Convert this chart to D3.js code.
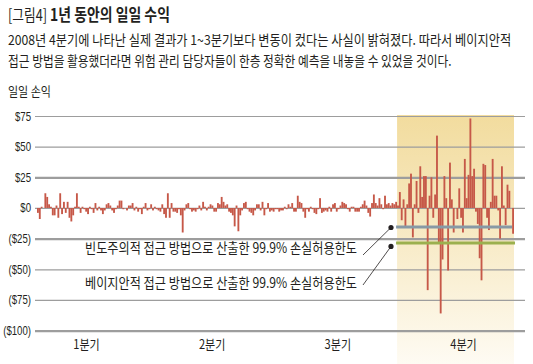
<!DOCTYPE html>
<html>
<head>
<meta charset="utf-8">
<script src="https://cdn.jsdelivr.net/npm/d3@7"></script>
<style>
  body { margin: 0; background: #fff; }
  svg { display: block; }
  text { font-family: "Noto Sans CJK KR", "Noto Sans", sans-serif; fill: #231f20; }
  .ylab .tick text { font-family: "Liberation Sans", Arial, sans-serif; }
</style>
</head>
<body>
<svg id="chart" width="533" height="364"></svg>
<script>
// daily P&L, one quarter per array
const q1 = [-4, -9, 1, 0, 12, 9, 3, 1, -6, -6, 2, -8, 12, -5, 5, -4, 5, -8, -11, -6, 1, 12, 1, -4, 1, -1,
  -3, -5, 1, -1, -4, 4, -2, 1, -2, -5, -2, 3, 4, 2, -2, -4, -1, 2, 6, 6, -1, 0, -2, 2, 2, 4, -2, 1, -3,
  -1, -5, 1, 4, -2, -1, 3, -2, 1, -1];
const q2 = [-2, -3, 3, -5, -8, 12, -8, 4, -3, -3, -4, -1, -6, -20, -2, 3, 4, -1, -3, -2, -3, -1, 2, -2, 5,
  1, -2, 1, 3, 2, -3, -3, 4, 3, 9, 5, 2, 3, -3, -4, -6, -15, 2, -19, -6, -2, 4, 5, -1, -3, -4, -6, -2, 3,
  3, -2, 5, -6, -1, 4, -3, -2, -3, -1, -1];
const q3 = [-3, -2, -2, 1, -1, 3, 1, 4, -3, -3, 10, 5, 4, -3, -8, -1, -3, 1, -1, -4, -5, -1, 8, -4, -3,
  -2, -3, 1, -3, 3, 4, -3, -1, 2, 5, 4, 3, -1, -3, 1, 1, -3, -3, -3, 1, 3, 6, 2, -4, -7, 4, 11, 4, 2, 8,
  3, -1, 10, 3, 4, 2, 4, 3, 5];
const q4 = [2, 13, -10, 7, -16, 3, 20, 28, -24, 3, 22, -4, 34, 9, 26, 26, -67, 10, 25, -8, 11, 59, -29,
  -86, -42, 26, 8, -51, 37, 7, -20, 0, -9, 16, -8, -20, 40, 8, 27, 73, 26, 32, -3, -13, -41, -59, 36, 35,
  -8, -18, 5, 40, 10, 10, -2, -25, 34, 2, -14, 19, 14, 0, -21];

const quarterLabels = ["1분기", "2분기", "3분기", "4분기"];
const yTicks = [75, 50, 25, 0, -25, -50, -75, -100];
const boldTicks = [25, -25, -100];
const freqLimit = -15.5;   // 빈도주의 99.9%
const bayesLimit = -28.5;  // 베이지안 99.9%

const titleTag = "[그림4]";
const titleText = "1년 동안의 일일 수익";
const subLines = [
  "2008년 4분기에 나타난 실제 결과가 1~3분기보다 변동이 컸다는 사실이 밝혀졌다. 따라서 베이지안적",
  "접근 방법을 활용했더라면 위험 관리 담당자들이 한층 정확한 예측을 내놓을 수 있었을 것이다."
];
const yTitle = "일일 손익";
const freqLabel = "빈도주의적 접근 방법으로 산출한 99.9% 손실허용한도";
const bayesLabel = "베이지안적 접근 방법으로 산출한 99.9% 손실허용한도";

const data = [].concat(q1, q2, q3, q4);
const q4Start = q1.length + q2.length + q3.length;

const svg = d3.select("#chart");

const x = d3.scaleBand().domain(d3.range(data.length)).range([37, 514]).padding(0);
const y = d3.scaleLinear().domain([-100, 75]).range([330.6, 116]);
const gridLeft = 35, gridRight = 525;

// gradient for 4Q shade
const defs = svg.append("defs");
const grad = defs.append("linearGradient").attr("id", "shade")
  .attr("x1", 0).attr("y1", 0).attr("x2", 0).attr("y2", 1);
grad.append("stop").attr("offset", "0%").attr("stop-color", "#f2dc9e");
grad.append("stop").attr("offset", "45%").attr("stop-color", "#f7e9c2");
grad.append("stop").attr("offset", "100%").attr("stop-color", "#fefbf3");

const shadeX0 = x(q4Start), shadeX1 = x(data.length - 1) + x.bandwidth();
svg.append("rect")
  .attr("x", shadeX0).attr("y", y(75) - 1)
  .attr("width", shadeX1 - shadeX0).attr("height", 364 - y(75) + 1)
  .attr("fill", "url(#shade)");

// grid
const grid = svg.append("g")
  .attr("transform", `translate(${gridLeft},0)`)
  .call(d3.axisLeft(y).tickValues(yTicks).tickSize(-(gridRight - gridLeft)).tickFormat(""));
grid.select(".domain").remove();
grid.selectAll(".tick line")
  .attr("stroke", "#9d9d9d")
  .attr("stroke-width", d => boldTicks.includes(d) ? 2.2 : 1.2);

// y labels (condensed by a horizontal scale, anchored at the right end)
const fmt = v => v < 0 ? `($${-v})` : `$${v}`;
const yAxis = svg.append("g")
  .attr("class", "ylab")
  .attr("transform", "translate(31,0)")
  .call(d3.axisLeft(y).tickValues(yTicks).tickSize(0).tickPadding(0).tickFormat(fmt));
yAxis.select(".domain").remove();
yAxis.selectAll("text")
  .attr("font-size", 12.5)
  .attr("fill", "#231f20")
  .attr("transform", "scale(0.77,1)");

// bars
svg.append("g").selectAll("rect")
  .data(data)
  .enter()
  .append("rect")
  .attr("x", (d, i) => x(i))
  .attr("width", x.bandwidth())
  .attr("y", d => y(Math.max(0, d)))
  .attr("height", d => Math.abs(y(d) - y(0)))
  .attr("fill", "#c65848");

// limit lines
svg.append("line")
  .attr("x1", shadeX0 - 1).attr("x2", shadeX1 - 2)
  .attr("y1", y(freqLimit)).attr("y2", y(freqLimit))
  .attr("stroke", "#8799a5").attr("stroke-width", 3);
svg.append("line")
  .attr("x1", shadeX0 - 1).attr("x2", shadeX1 + 1)
  .attr("y1", y(bayesLimit)).attr("y2", y(bayesLimit))
  .attr("stroke", "#9bb04e").attr("stroke-width", 3);

// quarter labels
const q = d3.scalePoint().domain(quarterLabels).range([86, 463]);
const xAxis = svg.append("g")
  .attr("transform", "translate(0,340)")
  .call(d3.axisBottom(q).tickSize(0).tickPadding(0));
xAxis.select(".domain").remove();
xAxis.selectAll("text")
  .attr("dy", "0.71em")
  .attr("font-size", 13)
  .attr("transform", "scale(0.85,1)")
  .style("font-family", '"Noto Sans CJK KR", sans-serif')
  .attr("fill", "#231f20");

// texts: squeeze horizontally to the measured width of the condensed original
function squeezed(str, x0, base, len, size, weight) {
  const t = svg.append("text")
    .attr("x", 0).attr("y", 0)
    .attr("font-size", size)
    .attr("font-weight", weight || 400)
    .text(str);
  const natural = t.node().getComputedTextLength();
  t.attr("transform", `translate(${x0},${base}) scale(${len / natural},1)`);
  return t;
}
squeezed(titleTag, 8, 20.5, 39, 16, 400);
squeezed(titleText, 50, 20.5, 120, 16.5, 700);
squeezed(subLines[0], 8, 44.5, 504, 13.8);
squeezed(subLines[1], 8, 65.5, 444, 13.8);
squeezed(yTitle, 8, 96, 43, 13);
squeezed(freqLabel, 85, 253, 272, 13.8);
squeezed(bayesLabel, 85, 287.5, 272, 13.8);

// leader lines with dots
const leaders = [
  { from: [363, 255], to: [391, y(freqLimit) + 0.5] },
  { from: [363, 285], to: [391, y(bayesLimit) + 3.5] }
];
leaders.forEach(l => {
  svg.append("line")
    .attr("x1", l.from[0]).attr("y1", l.from[1])
    .attr("x2", l.to[0]).attr("y2", l.to[1])
    .attr("stroke", "#231f20").attr("stroke-width", 0.8);
  svg.append("circle")
    .attr("cx", l.to[0]).attr("cy", l.to[1]).attr("r", 2.6)
    .attr("fill", "#231f20");
});
</script>
</body>
</html>
